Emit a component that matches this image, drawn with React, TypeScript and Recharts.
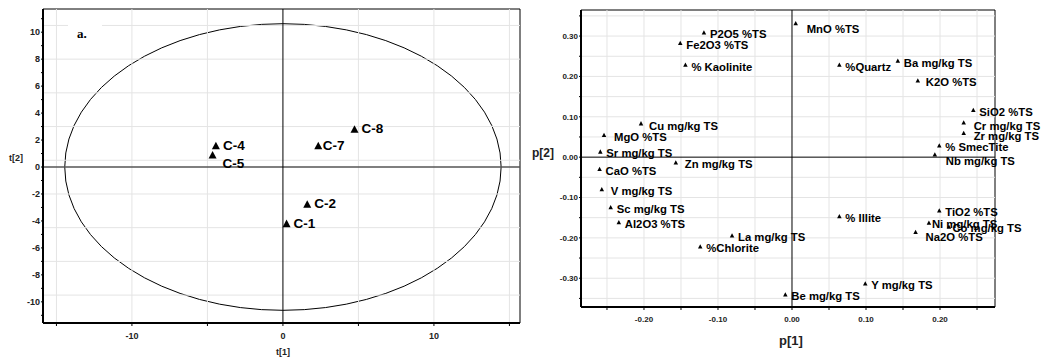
import { ScatterChart, Scatter, XAxis, YAxis, ReferenceLine, ReferenceArea } from "recharts";

const FONT = '"Liberation Sans", Arial, sans-serif';

// a. score plot
const sampleNames = ["C-1", "C-2", "C-4", "C-5", "C-7", "C-8"];
const sampleT1 = [0.24, 1.61, -4.44, -4.66, 2.34, 4.74];
const sampleT2 = [-4.18, -2.74, 1.6, 0.91, 1.6, 2.82];
const ellipseT1 = 14.45;
const ellipseT2 = 10.63;
const t1Ticks = [-15, -10, -5, 0, 5, 10, 15];
const t2Ticks = [-11, -10, -9, -8, -7, -6, -5, -4, -3, -2, -1, 0, 1, 2, 3, 4, 5, 6, 7, 8, 9, 10, 11];
const t1Grid = [-15, -10, -5, 5, 10, 15];
const t2Grid = [10.5, 8, 5.5, 3, 0.5, -2, -4.5, -7, -9.5];

// loading plot
const varNames = [
  "P2O5 %TS", "Fe2O3 %TS", "% Kaolinite", "MnO %TS", "%Quartz", "Ba mg/kg TS", "K2O %TS",
  "SiO2 %TS", "Cr mg/kg TS", "Zr mg/kg TS", "% SmecTite", "Nb mg/kg TS", "Cu mg/kg TS",
  "MgO %TS", "Sr mg/kg TS", "Zn mg/kg TS", "CaO %TS", "V mg/kg TS", "Sc mg/kg TS",
  "Al2O3 %TS", "La mg/kg TS", "%Chlorite", "Be mg/kg TS", "Y mg/kg TS", "% Illite",
  "TiO2 %TS", "Ni mg/kg TS", "Co mg/kg TS", "Na2O %TS",
];
const varP1 = [
  -0.119, -0.151, -0.144, 0.005, 0.064, 0.143, 0.17,
  0.245, 0.232, 0.232, 0.199, 0.193, -0.204,
  -0.254, -0.259, -0.157, -0.26, -0.257, -0.245,
  -0.234, -0.081, -0.124, -0.009, 0.099, 0.064,
  0.199, 0.185, 0.212, 0.167,
];
const varP2 = [
  0.309, 0.283, 0.229, 0.332, 0.229, 0.239, 0.19,
  0.117, 0.086, 0.06, 0.029, 0.007, 0.084,
  0.055, 0.014, -0.013, -0.029, -0.079, -0.124,
  -0.161, -0.194, -0.221, -0.34, -0.313, -0.146,
  -0.132, -0.162, -0.172, -0.185,
];
const p1Ticks = [-0.25, -0.2, -0.15, -0.1, -0.05, 0, 0.05, 0.1, 0.15, 0.2, 0.25];
const p2Ticks = [-0.35, -0.3, -0.25, -0.2, -0.15, -0.1, -0.05, 0, 0.05, 0.1, 0.15, 0.2, 0.25, 0.3, 0.35];

const scores = sampleNames.map((name, i) => ({ name, x: sampleT1[i], y: sampleT2[i] }));
const loadings = varNames.map((name, i) => ({ name, x: varP1[i], y: varP2[i] }));

// label offsets in px from the marker
const scoreNudge: Record<string, [number, number]> = {
  "C-5": [10, 9],
  "C-7": [4.5, 0],
};
const loadNudge: Record<string, [number, number]> = {
  "MnO %TS": [11, 6],
  "K2O %TS": [8, 2],
  "Cr mg/kg TS": [10, 3.5],
  "Zr mg/kg TS": [10, 3.5],
  "Nb mg/kg TS": [11, 7],
  "Cu mg/kg TS": [8, 2.5],
  "MgO %TS": [10, 2],
  "Zn mg/kg TS": [9, 2],
  "V mg/kg TS": [9, 2],
  "Ni mg/kg TS": [3, 1.5],
  "Co mg/kg TS": [3.5, 1],
  "Na2O %TS": [10, 5],
};

const makeMarker = (w: number, fs: number, nudge: Record<string, [number, number]>, def: [number, number]) =>
  (p: any) => {
    const { cx, cy, payload } = p;
    const [dx, dy] = nudge[payload.name] || def;
    const h = w * 0.95;
    return (
      <g>
        <polygon
          points={`${cx - w / 2},${cy + h / 2} ${cx + w / 2},${cy + h / 2} ${cx},${cy - h / 2}`}
          fill="#000"
        />
        <text
          x={cx + dx}
          y={cy + dy}
          dominantBaseline="central"
          fontFamily={FONT}
          fontWeight={700}
          fontSize={fs}
          fill="#000"
        >
          {payload.name}
        </text>
      </g>
    );
  };

const tickStyle = (fs: number) => ({ fontSize: fs, fontWeight: 700, fill: "#222", fontFamily: FONT });

const ellipseShape = (p: any) => (
  <ellipse
    cx={p.x + p.width / 2}
    cy={p.y + p.height / 2}
    rx={p.width / 2}
    ry={p.height / 2}
    fill="none"
    stroke="#000"
    strokeWidth={1}
  />
);

function ScorePlot() {
  const xd: [number, number] = [-15.89, 15.7];
  const yd: [number, number] = [-11.57, 11.72];
  return (
    <ScatterChart width={525} height={358} margin={{ top: 9, right: 5, bottom: 0, left: 0 }}>
      <XAxis
        type="number" dataKey="x" domain={xd} ticks={t1Ticks} interval={0}
        tickFormatter={(v: number) => (v % 10 === 0 ? String(v) : "")}
        height={35} tickSize={3} tickMargin={7} tick={tickStyle(9)}
        axisLine={{ stroke: "#000", strokeWidth: 2 }} tickLine={{ stroke: "#000" }}
      />
      <YAxis
        type="number" dataKey="y" domain={yd} ticks={t2Ticks} interval={0}
        tickFormatter={(v: number) => (v % 2 === 0 ? String(v) : "")}
        width={43} tickSize={2} tickMargin={1} tick={tickStyle(9)}
        axisLine={{ stroke: "#000", strokeWidth: 2 }} tickLine={{ stroke: "#000" }}
      />
      {t1Grid.map((v) => (
        <ReferenceLine key={"gx" + v} x={v} stroke="#e4e4e4" strokeWidth={1} />
      ))}
      {t2Grid.map((v) => (
        <ReferenceLine key={"gy" + v} y={v} stroke="#e4e4e4" strokeWidth={1} />
      ))}
      <ReferenceArea x1={xd[0]} x2={xd[1]} y1={yd[0]} y2={yd[1]} fill="none" stroke="#000" strokeWidth={1} />
      <ReferenceArea x1={-ellipseT1} x2={ellipseT1} y1={-ellipseT2} y2={ellipseT2} shape={ellipseShape} />
      <ReferenceLine y={0} stroke="#555" strokeWidth={1.5} />
      <ReferenceLine x={0} stroke="#000" strokeWidth={1} />
      <Scatter data={scores} isAnimationActive={false} shape={makeMarker(8, 13.5, scoreNudge, [7, 0])} />
    </ScatterChart>
  );
}

function LoadingPlot() {
  const xd: [number, number] = [-0.2851, 0.2743];
  const yd: [number, number] = [-0.3713, 0.3646];
  return (
    <ScatterChart width={526} height={358} margin={{ top: 10, right: 56, bottom: 0, left: 0 }}>
      <XAxis
        type="number" dataKey="x" domain={xd} ticks={p1Ticks} interval={0}
        tickFormatter={(v: number) => (Math.round(v * 100) % 10 === 0 ? v.toFixed(2) : "")}
        height={51} tickSize={3} tickMargin={6} tick={tickStyle(8)}
        axisLine={{ stroke: "#000", strokeWidth: 2 }} tickLine={{ stroke: "#000" }}
      />
      <YAxis
        type="number" dataKey="y" domain={yd} ticks={p2Ticks} interval={0}
        tickFormatter={(v: number) => (Math.round(v * 100) % 10 === 0 ? v.toFixed(2) : "")}
        width={56} tickSize={2} tickMargin={1} tick={tickStyle(8)}
        axisLine={{ stroke: "#000", strokeWidth: 2 }} tickLine={{ stroke: "#000" }}
      />
      {p1Ticks.filter((v) => v !== 0).map((v) => (
        <ReferenceLine key={"gx" + v} x={v} stroke="#e4e4e4" strokeWidth={1} />
      ))}
      {p2Ticks.filter((v) => v !== 0).map((v) => (
        <ReferenceLine key={"gy" + v} y={v} stroke="#e4e4e4" strokeWidth={1} />
      ))}
      <ReferenceArea x1={xd[0]} x2={xd[1]} y1={yd[0]} y2={yd[1]} fill="none" stroke="#000" strokeWidth={1} />
      <ReferenceLine y={0} stroke="#000" strokeWidth={1} />
      <ReferenceLine x={0} stroke="#000" strokeWidth={1} />
      <Scatter data={loadings} isAnimationActive={false} shape={makeMarker(4.5, 11.3, loadNudge, [6, 2])} />
    </ScatterChart>
  );
}

const titleStyle = (fs: number): React.CSSProperties => ({
  position: "absolute",
  fontFamily: FONT,
  fontWeight: 700,
  fontSize: fs,
  color: "#222",
  transform: "translate(-50%, -50%)",
  whiteSpace: "nowrap",
});

export default function App() {
  return (
    <div style={{ position: "absolute", left: 0, top: 0, width: 1051, height: 358, background: "#fff", overflow: "hidden" }}>
      <div style={{ position: "absolute", left: 0, top: 0 }}>
        <ScorePlot />
      </div>
      <div style={{ position: "absolute", left: 525, top: 0 }}>
        <LoadingPlot />
      </div>
      <div style={{ position: "absolute", left: 68, top: 21, width: 34, height: 24, background: "#fff" }} />
      <div style={{ position: "absolute", left: 77, top: 26, fontFamily: '"Liberation Serif", serif', fontWeight: 700, fontSize: 13, lineHeight: "16px" }}>
        a.
      </div>
      <div style={{ ...titleStyle(9), left: 16, top: 158 }}>t[2]</div>
      <div style={{ ...titleStyle(9), left: 283, top: 352 }}>t[1]</div>
      <div style={{ ...titleStyle(12), left: 543, top: 153 }}>p[2]</div>
      <div style={{ ...titleStyle(13), left: 791, top: 340 }}>p[1]</div>
    </div>
  );
}
